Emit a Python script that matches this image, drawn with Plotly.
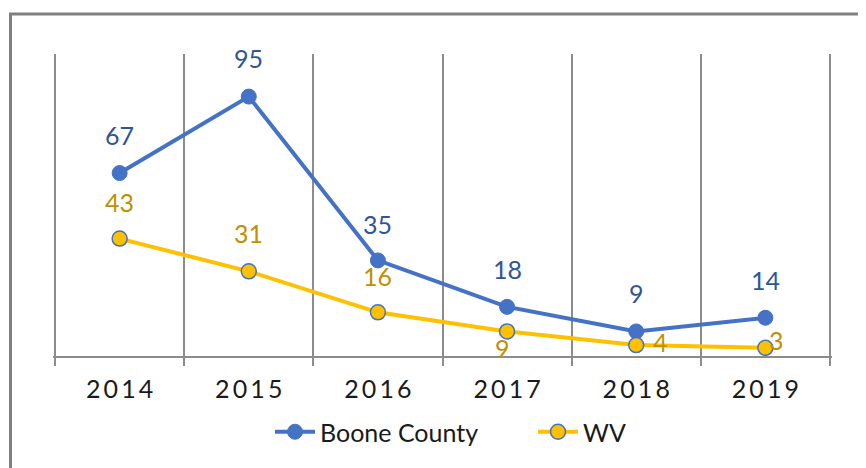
import plotly.graph_objects as go

years = ["2014", "2015", "2016", "2017", "2018", "2019"]
boone = [67, 95, 35, 18, 9, 14]
wv = [43, 31, 16, 9, 4, 3]

# label offsets (pixels) for data labels
boone_dx = [0, 0, 0, 0, 0, 0]
boone_dy = [38, 39, 36, 38, 38, 38]
wv_dx = [0, 0, 0, -5, 24, 11]
wv_dy = [37, 38, 36, -17, 3, 8]

BLUE = "#4472C4"
GOLD = "#FFC000"
BLUE_TXT = "#2F5597"
GOLD_TXT = "#BF9000"
FONT = "Lato"

fig = go.Figure()
fig.add_trace(go.Scatter(
    x=years, y=boone, name="Boone County", mode="lines+markers",
    line=dict(color=BLUE, width=4),
    marker=dict(color=BLUE, size=15, line=dict(color=BLUE, width=1)),
))
fig.add_trace(go.Scatter(
    x=years, y=wv, name="WV", mode="lines+markers",
    line=dict(color=GOLD, width=4),
    marker=dict(color=GOLD, size=15, line=dict(color=BLUE, width=1.5)),
))

annotations = []
for i, (v, dx, dy) in enumerate(zip(boone, boone_dx, boone_dy)):
    annotations.append(dict(x=i, y=v, xref="x", yref="y", text=str(v), showarrow=False,
                            xshift=dx, yshift=dy, yanchor="middle",
                            font=dict(family=FONT, size=25, color=BLUE_TXT)))
for i, (v, dx, dy) in enumerate(zip(wv, wv_dx, wv_dy)):
    annotations.append(dict(x=i, y=v, xref="x", yref="y", text=str(v), showarrow=False,
                            xshift=dx, yshift=dy, yanchor="middle",
                            font=dict(family=FONT, size=25, color=GOLD_TXT)))

ticktext = ["\u2009".join(y) for y in years]

# page has an 8px body margin; figure coordinates are page - 8
W, H = 858, 460
L, R, T, B = 45, 34, 46, 112
pw, ph = W - L - R, H - T - B

def px2paper_x(px):
    return (px - 8 - L) / pw

def px2paper_y(py):
    return (H - B - (py - 8)) / ph

eps = 0.016
fig.update_layout(
    width=W, height=H,
    margin=dict(l=L, r=R, t=T, b=B),
    paper_bgcolor="white", plot_bgcolor="white",
    font=dict(family=FONT, size=24, color="#1a1a1a"),
    showlegend=True,
    legend=dict(orientation="h", x=px2paper_x(533), xanchor="center",
                y=px2paper_y(432), yanchor="middle",
                font=dict(family=FONT, size=25, color="#1a1a1a"),
                itemwidth=40, tracegroupgap=0,
                entrywidth=208, entrywidthmode="pixels"),
    annotations=annotations,
    xaxis=dict(
        type="category", tickson="boundaries",
        tickmode="array", tickvals=years, ticktext=ticktext,
        showgrid=True, gridcolor="#8c8c8c", gridwidth=2,
        showline=True, linecolor="#8c8c8c", linewidth=2,
        ticks="outside", ticklen=8, tickcolor="#8c8c8c", tickwidth=2,
        ticklabelstandoff=10,
        tickfont=dict(family=FONT, size=25, color="#1a1a1a"),
        range=[-0.5 - eps, 5.5 + eps], zeroline=False,
    ),
    yaxis=dict(range=[0, 110.6], visible=False, showgrid=False, zeroline=False),
    shapes=[dict(type="rect", xref="paper", yref="paper",
                 x0=px2paper_x(10.5), x1=px2paper_x(880),
                 y0=px2paper_y(480), y1=px2paper_y(14),
                 line=dict(color="#808080", width=3), fillcolor="rgba(0,0,0,0)",
                 layer="below")],
)

fig.write_html("out.html")
